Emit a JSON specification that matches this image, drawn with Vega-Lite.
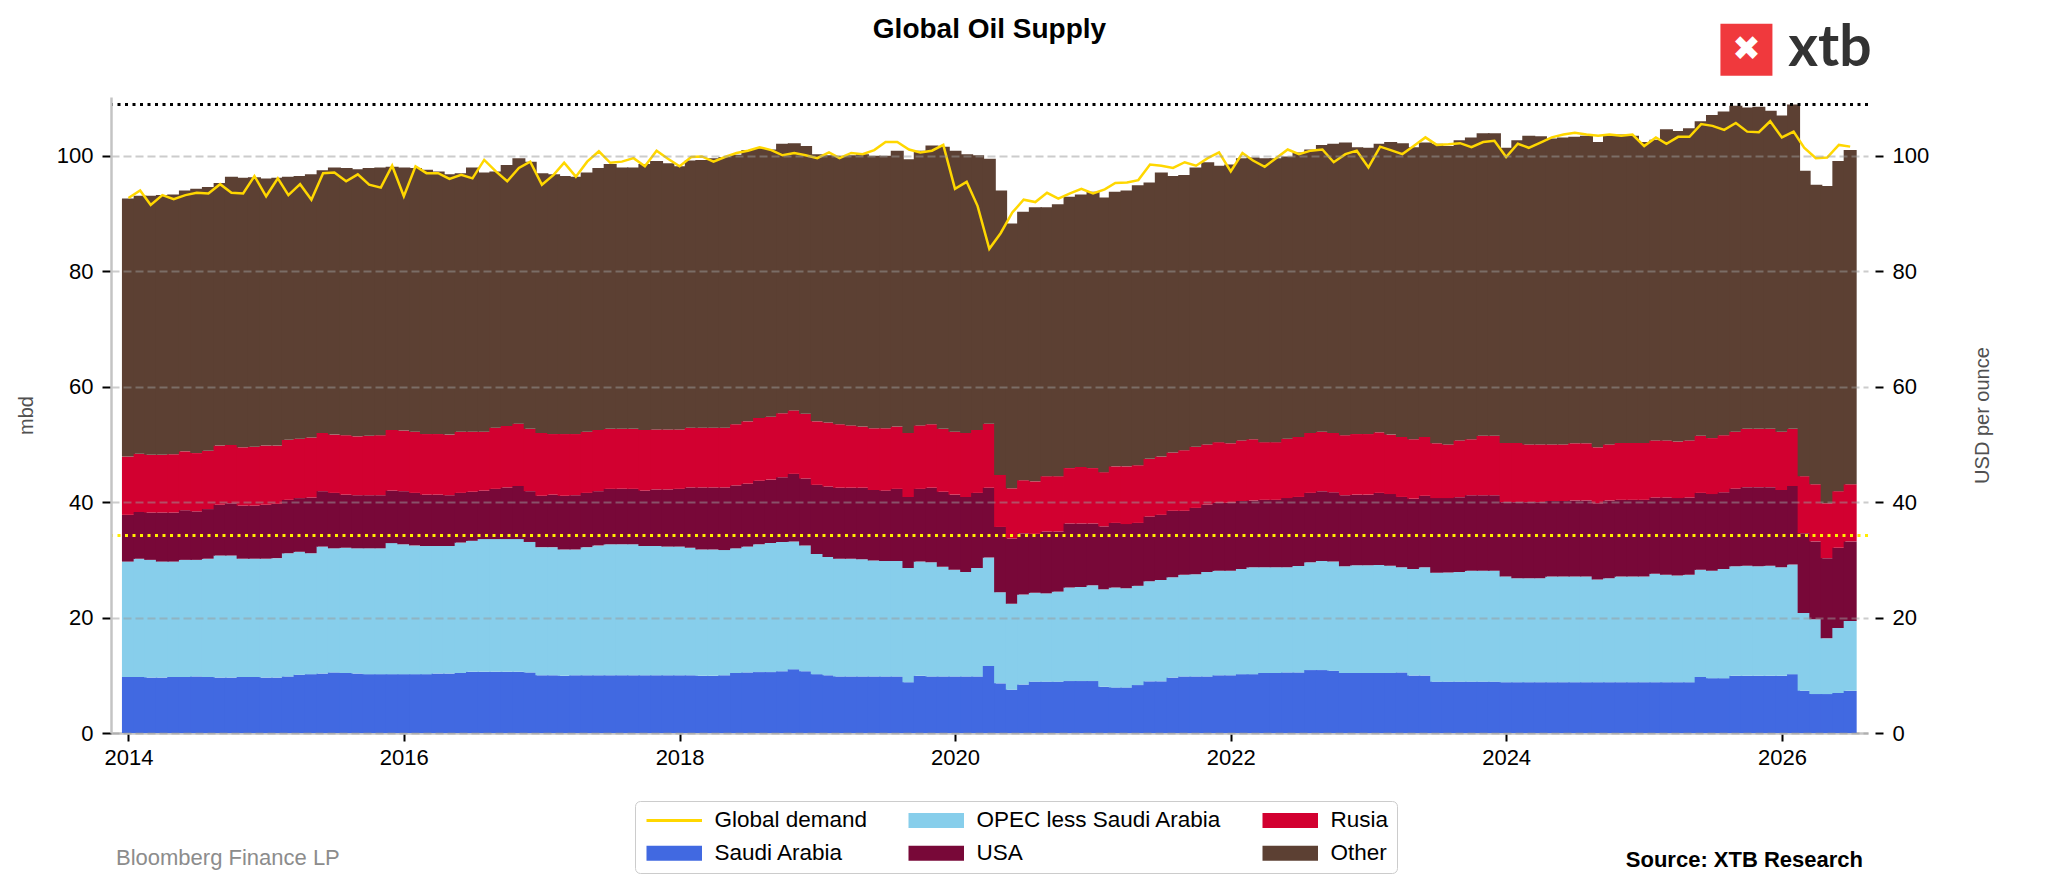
{
  "$schema": "https://vega.github.io/schema/vega-lite/v6.json",
  "width": 1757,
  "height": 636,
  "autosize": {"type": "none"},
  "padding": {"left": 111, "top": 97, "right": 180, "bottom": 161},
  "background": "white",
  "title": {
    "text": "Global Oil Supply",
    "font": "Liberation Sans",
    "fontSize": 28,
    "fontWeight": "bold",
    "color": "black",
    "anchor": "middle",
    "frame": "group",
    "baseline": "bottom",
    "offset": -52
  },
  "datasets": {
    "seriesOrder": [
      {"series": "sa", "rank": 1},
      {"series": "opec", "rank": 2},
      {"series": "usa", "rank": 3},
      {"series": "rus", "rank": 4},
      {"series": "other", "rank": 5}
    ]
  },
  "data": {
    "values": [
      {"date": "2014-01-01", "sa": 9.7, "opec": 20.0, "usa": 8.1, "rus": 10.1, "other": 44.7, "demand": 92.7},
      {"date": "2014-02-01", "sa": 9.7, "opec": 20.5, "usa": 8.1, "rus": 10.1, "other": 44.7, "demand": 94.0},
      {"date": "2014-03-01", "sa": 9.6, "opec": 20.4, "usa": 8.2, "rus": 10.0, "other": 44.9, "demand": 91.5},
      {"date": "2014-04-01", "sa": 9.6, "opec": 20.1, "usa": 8.5, "rus": 10.0, "other": 45.0, "demand": 93.2},
      {"date": "2014-05-01", "sa": 9.7, "opec": 20.0, "usa": 8.5, "rus": 10.1, "other": 45.0, "demand": 92.5},
      {"date": "2014-06-01", "sa": 9.7, "opec": 20.3, "usa": 8.6, "rus": 10.2, "other": 45.2, "demand": 93.2},
      {"date": "2014-07-01", "sa": 9.8, "opec": 20.2, "usa": 8.4, "rus": 10.1, "other": 45.8, "demand": 93.6},
      {"date": "2014-08-01", "sa": 9.7, "opec": 20.5, "usa": 8.6, "rus": 10.1, "other": 45.7, "demand": 93.5},
      {"date": "2014-09-01", "sa": 9.6, "opec": 21.15, "usa": 8.8, "rus": 10.25, "other": 45.5, "demand": 95.1},
      {"date": "2014-10-01", "sa": 9.6, "opec": 21.15, "usa": 9.05, "rus": 10.1, "other": 46.5, "demand": 93.6},
      {"date": "2014-11-01", "sa": 9.7, "opec": 20.5, "usa": 9.2, "rus": 10.1, "other": 46.7, "demand": 93.5},
      {"date": "2014-12-01", "sa": 9.7, "opec": 20.5, "usa": 9.2, "rus": 10.2, "other": 46.7, "demand": 96.5},
      {"date": "2015-01-01", "sa": 9.6, "opec": 20.6, "usa": 9.35, "rus": 10.25, "other": 46.3, "demand": 93.0},
      {"date": "2015-02-01", "sa": 9.6, "opec": 20.7, "usa": 9.4, "rus": 10.1, "other": 46.4, "demand": 96.1},
      {"date": "2015-03-01", "sa": 9.8, "opec": 21.35, "usa": 9.25, "rus": 10.4, "other": 45.6, "demand": 93.2},
      {"date": "2015-04-01", "sa": 10.1, "opec": 21.3, "usa": 9.3, "rus": 10.3, "other": 45.5, "demand": 95.1},
      {"date": "2015-05-01", "sa": 10.2, "opec": 20.95, "usa": 9.65, "rus": 10.4, "other": 45.6, "demand": 92.4},
      {"date": "2015-06-01", "sa": 10.3, "opec": 22.0, "usa": 9.6, "rus": 10.1, "other": 45.5, "demand": 97.0},
      {"date": "2015-07-01", "sa": 10.5, "opec": 21.5, "usa": 9.6, "rus": 10.1, "other": 46.3, "demand": 97.1},
      {"date": "2015-08-01", "sa": 10.4, "opec": 21.7, "usa": 9.2, "rus": 10.3, "other": 46.3, "demand": 95.6},
      {"date": "2015-09-01", "sa": 10.3, "opec": 21.7, "usa": 9.2, "rus": 10.2, "other": 46.3, "demand": 96.8},
      {"date": "2015-10-01", "sa": 10.2, "opec": 21.8, "usa": 9.2, "rus": 10.3, "other": 46.4, "demand": 95.0},
      {"date": "2015-11-01", "sa": 10.2, "opec": 21.8, "usa": 9.2, "rus": 10.4, "other": 46.4, "demand": 94.5},
      {"date": "2015-12-01", "sa": 10.2, "opec": 22.7, "usa": 9.1, "rus": 10.5, "other": 45.6, "demand": 98.3},
      {"date": "2016-01-01", "sa": 10.2, "opec": 22.5, "usa": 9.2, "rus": 10.5, "other": 45.6, "demand": 93.0},
      {"date": "2016-02-01", "sa": 10.2, "opec": 22.3, "usa": 9.1, "rus": 10.6, "other": 45.7, "demand": 98.2},
      {"date": "2016-03-01", "sa": 10.2, "opec": 22.2, "usa": 8.9, "rus": 10.5, "other": 45.8, "demand": 97.0},
      {"date": "2016-04-01", "sa": 10.3, "opec": 22.1, "usa": 8.9, "rus": 10.5, "other": 45.5, "demand": 97.0},
      {"date": "2016-05-01", "sa": 10.3, "opec": 22.1, "usa": 8.8, "rus": 10.5, "other": 45.1, "demand": 96.0},
      {"date": "2016-06-01", "sa": 10.4, "opec": 22.6, "usa": 8.6, "rus": 10.6, "other": 44.8, "demand": 96.7},
      {"date": "2016-07-01", "sa": 10.6, "opec": 22.7, "usa": 8.5, "rus": 10.4, "other": 45.8, "demand": 96.1},
      {"date": "2016-08-01", "sa": 10.6, "opec": 23.0, "usa": 8.4, "rus": 10.2, "other": 44.9, "demand": 99.3},
      {"date": "2016-09-01", "sa": 10.6, "opec": 23.0, "usa": 8.7, "rus": 10.6, "other": 44.4, "demand": 97.3},
      {"date": "2016-10-01", "sa": 10.6, "opec": 23.0, "usa": 8.95, "rus": 10.65, "other": 45.2, "demand": 95.6},
      {"date": "2016-11-01", "sa": 10.6, "opec": 23.0, "usa": 9.2, "rus": 10.8, "other": 46.0, "demand": 97.9},
      {"date": "2016-12-01", "sa": 10.5, "opec": 22.6, "usa": 8.8, "rus": 10.8, "other": 46.3, "demand": 99.0},
      {"date": "2017-01-01", "sa": 10.0, "opec": 22.2, "usa": 8.9, "rus": 10.9, "other": 45.0, "demand": 95.0},
      {"date": "2017-02-01", "sa": 10.0, "opec": 22.2, "usa": 9.1, "rus": 10.5, "other": 45.0, "demand": 96.7},
      {"date": "2017-03-01", "sa": 9.9, "opec": 21.9, "usa": 9.3, "rus": 10.7, "other": 44.7, "demand": 98.8},
      {"date": "2017-04-01", "sa": 10.0, "opec": 21.8, "usa": 9.4, "rus": 10.6, "other": 44.6, "demand": 96.4},
      {"date": "2017-05-01", "sa": 10.0, "opec": 22.2, "usa": 9.4, "rus": 10.6, "other": 44.9, "demand": 99.0},
      {"date": "2017-06-01", "sa": 10.0, "opec": 22.5, "usa": 9.4, "rus": 10.6, "other": 45.4, "demand": 100.8},
      {"date": "2017-07-01", "sa": 10.0, "opec": 22.7, "usa": 9.6, "rus": 10.4, "other": 45.9, "demand": 98.8},
      {"date": "2017-08-01", "sa": 10.0, "opec": 22.7, "usa": 9.6, "rus": 10.4, "other": 45.3, "demand": 99.0},
      {"date": "2017-09-01", "sa": 10.0, "opec": 22.7, "usa": 9.6, "rus": 10.4, "other": 45.3, "demand": 99.6},
      {"date": "2017-10-01", "sa": 10.0, "opec": 22.4, "usa": 9.6, "rus": 10.5, "other": 46.1, "demand": 98.2},
      {"date": "2017-11-01", "sa": 10.0, "opec": 22.4, "usa": 9.8, "rus": 10.4, "other": 46.5, "demand": 100.9},
      {"date": "2017-12-01", "sa": 10.0, "opec": 22.3, "usa": 9.9, "rus": 10.4, "other": 46.1, "demand": 99.5},
      {"date": "2018-01-01", "sa": 10.0, "opec": 22.3, "usa": 10.0, "rus": 10.3, "other": 45.6, "demand": 98.2},
      {"date": "2018-02-01", "sa": 10.0, "opec": 22.1, "usa": 10.45, "rus": 10.35, "other": 46.3, "demand": 99.8},
      {"date": "2018-03-01", "sa": 9.9, "opec": 21.9, "usa": 10.75, "rus": 10.35, "other": 46.4, "demand": 99.9},
      {"date": "2018-04-01", "sa": 9.9, "opec": 21.9, "usa": 10.75, "rus": 10.35, "other": 46.7, "demand": 99.0},
      {"date": "2018-05-01", "sa": 10.0, "opec": 21.7, "usa": 10.85, "rus": 10.35, "other": 46.9, "demand": 99.8},
      {"date": "2018-06-01", "sa": 10.4, "opec": 21.6, "usa": 10.9, "rus": 10.6, "other": 46.7, "demand": 100.5},
      {"date": "2018-07-01", "sa": 10.5, "opec": 21.8, "usa": 10.9, "rus": 10.8, "other": 47.0, "demand": 100.9},
      {"date": "2018-08-01", "sa": 10.55, "opec": 22.15, "usa": 11.0, "rus": 10.9, "other": 46.7, "demand": 101.5},
      {"date": "2018-09-01", "sa": 10.55, "opec": 22.35, "usa": 11.0, "rus": 10.9, "other": 46.3, "demand": 101.0},
      {"date": "2018-10-01", "sa": 10.7, "opec": 22.4, "usa": 11.2, "rus": 11.1, "other": 46.7, "demand": 100.1},
      {"date": "2018-11-01", "sa": 11.05, "opec": 22.15, "usa": 11.7, "rus": 11.0, "other": 46.3, "demand": 100.5},
      {"date": "2018-12-01", "sa": 10.7, "opec": 21.8, "usa": 11.6, "rus": 11.2, "other": 46.4, "demand": 100.1},
      {"date": "2019-01-01", "sa": 10.2, "opec": 20.8, "usa": 12.0, "rus": 11.0, "other": 46.3, "demand": 99.6},
      {"date": "2019-02-01", "sa": 10.0, "opec": 20.5, "usa": 12.2, "rus": 11.1, "other": 46.3, "demand": 100.6},
      {"date": "2019-03-01", "sa": 9.8, "opec": 20.4, "usa": 12.3, "rus": 11.0, "other": 46.5, "demand": 99.6},
      {"date": "2019-04-01", "sa": 9.8, "opec": 20.4, "usa": 12.3, "rus": 10.8, "other": 46.8, "demand": 100.5},
      {"date": "2019-05-01", "sa": 9.8, "opec": 20.3, "usa": 12.4, "rus": 10.6, "other": 47.2, "demand": 100.3},
      {"date": "2019-06-01", "sa": 9.8, "opec": 20.1, "usa": 12.2, "rus": 10.7, "other": 47.2, "demand": 101.0},
      {"date": "2019-07-01", "sa": 9.8, "opec": 20.0, "usa": 12.2, "rus": 10.8, "other": 47.2, "demand": 102.4},
      {"date": "2019-08-01", "sa": 9.8, "opec": 20.0, "usa": 12.5, "rus": 10.8, "other": 47.8, "demand": 102.4},
      {"date": "2019-09-01", "sa": 8.8, "opec": 19.8, "usa": 12.3, "rus": 11.1, "other": 47.4, "demand": 101.1},
      {"date": "2019-10-01", "sa": 9.9, "opec": 19.8, "usa": 12.6, "rus": 11.0, "other": 47.6, "demand": 100.6},
      {"date": "2019-11-01", "sa": 9.8, "opec": 19.8, "usa": 12.9, "rus": 11.0, "other": 48.3, "demand": 100.9},
      {"date": "2019-12-01", "sa": 9.8, "opec": 19.0, "usa": 13.0, "rus": 10.9, "other": 48.9, "demand": 101.9},
      {"date": "2020-01-01", "sa": 9.8, "opec": 18.5, "usa": 13.0, "rus": 10.9, "other": 48.7, "demand": 94.3},
      {"date": "2020-02-01", "sa": 9.8, "opec": 18.1, "usa": 13.0, "rus": 11.1, "other": 48.3, "demand": 95.5},
      {"date": "2020-03-01", "sa": 9.8, "opec": 18.8, "usa": 13.0, "rus": 10.9, "other": 47.6, "demand": 91.3},
      {"date": "2020-04-01", "sa": 11.6, "opec": 18.8, "usa": 12.1, "rus": 11.1, "other": 45.9, "demand": 83.9},
      {"date": "2020-05-01", "sa": 8.6, "opec": 15.8, "usa": 11.3, "rus": 9.0, "other": 49.3, "demand": 86.6},
      {"date": "2020-06-01", "sa": 7.5, "opec": 14.9, "usa": 11.3, "rus": 8.7, "other": 45.9, "demand": 90.2},
      {"date": "2020-07-01", "sa": 8.4, "opec": 15.6, "usa": 10.6, "rus": 9.2, "other": 46.5, "demand": 92.4},
      {"date": "2020-08-01", "sa": 8.9, "opec": 15.4, "usa": 10.2, "rus": 9.1, "other": 47.5, "demand": 92.0},
      {"date": "2020-09-01", "sa": 8.9, "opec": 15.3, "usa": 10.7, "rus": 9.6, "other": 46.6, "demand": 93.6},
      {"date": "2020-10-01", "sa": 8.9, "opec": 15.6, "usa": 10.4, "rus": 9.6, "other": 47.1, "demand": 92.6},
      {"date": "2020-11-01", "sa": 9.0, "opec": 16.2, "usa": 11.1, "rus": 9.6, "other": 47.0, "demand": 93.5},
      {"date": "2020-12-01", "sa": 9.0, "opec": 16.3, "usa": 11.0, "rus": 9.8, "other": 47.2, "demand": 94.3},
      {"date": "2021-01-01", "sa": 9.0, "opec": 16.6, "usa": 10.7, "rus": 9.6, "other": 47.9, "demand": 93.5},
      {"date": "2021-02-01", "sa": 8.0, "opec": 16.9, "usa": 10.9, "rus": 9.4, "other": 47.6, "demand": 94.2},
      {"date": "2021-03-01", "sa": 7.9, "opec": 17.3, "usa": 11.2, "rus": 9.8, "other": 47.6, "demand": 95.3},
      {"date": "2021-04-01", "sa": 7.9, "opec": 17.2, "usa": 11.1, "rus": 10.0, "other": 47.8, "demand": 95.4},
      {"date": "2021-05-01", "sa": 8.3, "opec": 17.2, "usa": 10.9, "rus": 10.0, "other": 48.5, "demand": 95.8},
      {"date": "2021-06-01", "sa": 8.95, "opec": 17.35, "usa": 11.2, "rus": 10.0, "other": 47.9, "demand": 98.5},
      {"date": "2021-07-01", "sa": 8.95, "opec": 17.55, "usa": 11.3, "rus": 10.1, "other": 49.2, "demand": 98.3},
      {"date": "2021-08-01", "sa": 9.6, "opec": 17.4, "usa": 11.5, "rus": 10.1, "other": 47.9, "demand": 97.9},
      {"date": "2021-09-01", "sa": 9.8, "opec": 17.6, "usa": 11.1, "rus": 10.5, "other": 47.7, "demand": 98.9},
      {"date": "2021-10-01", "sa": 9.8, "opec": 17.7, "usa": 11.5, "rus": 10.6, "other": 48.4, "demand": 98.3},
      {"date": "2021-11-01", "sa": 9.8, "opec": 18.1, "usa": 11.7, "rus": 10.4, "other": 48.9, "demand": 99.6},
      {"date": "2021-12-01", "sa": 10.0, "opec": 18.1, "usa": 11.8, "rus": 10.5, "other": 47.9, "demand": 100.6},
      {"date": "2022-01-01", "sa": 10.0, "opec": 18.1, "usa": 11.8, "rus": 10.3, "other": 48.3, "demand": 97.3},
      {"date": "2022-02-01", "sa": 10.2, "opec": 18.2, "usa": 11.8, "rus": 10.5, "other": 48.9, "demand": 100.5},
      {"date": "2022-03-01", "sa": 10.2, "opec": 18.5, "usa": 11.6, "rus": 10.6, "other": 48.8, "demand": 99.2},
      {"date": "2022-04-01", "sa": 10.4, "opec": 18.3, "usa": 11.7, "rus": 10.0, "other": 49.2, "demand": 98.1},
      {"date": "2022-05-01", "sa": 10.4, "opec": 18.3, "usa": 11.7, "rus": 10.0, "other": 49.2, "demand": 99.6},
      {"date": "2022-06-01", "sa": 10.5, "opec": 18.2, "usa": 12.0, "rus": 10.3, "other": 48.9, "demand": 101.1},
      {"date": "2022-07-01", "sa": 10.5, "opec": 18.45, "usa": 11.95, "rus": 10.4, "other": 49.3, "demand": 100.3},
      {"date": "2022-08-01", "sa": 10.9, "opec": 18.7, "usa": 12.0, "rus": 10.4, "other": 49.1, "demand": 100.9},
      {"date": "2022-09-01", "sa": 10.9, "opec": 18.9, "usa": 12.1, "rus": 10.3, "other": 49.7, "demand": 101.1},
      {"date": "2022-10-01", "sa": 10.8, "opec": 18.9, "usa": 12.0, "rus": 10.3, "other": 50.1, "demand": 98.9},
      {"date": "2022-11-01", "sa": 10.4, "opec": 18.5, "usa": 12.3, "rus": 10.4, "other": 50.7, "demand": 100.3},
      {"date": "2022-12-01", "sa": 10.4, "opec": 18.65, "usa": 12.25, "rus": 10.5, "other": 49.7, "demand": 100.9},
      {"date": "2023-01-01", "sa": 10.4, "opec": 18.65, "usa": 12.25, "rus": 10.5, "other": 49.6, "demand": 98.0},
      {"date": "2023-02-01", "sa": 10.4, "opec": 18.7, "usa": 12.5, "rus": 10.5, "other": 50.0, "demand": 101.6},
      {"date": "2023-03-01", "sa": 10.4, "opec": 18.6, "usa": 12.4, "rus": 10.3, "other": 50.7, "demand": 101.0},
      {"date": "2023-04-01", "sa": 10.5, "opec": 18.2, "usa": 12.2, "rus": 10.4, "other": 50.9, "demand": 100.3},
      {"date": "2023-05-01", "sa": 9.95, "opec": 18.45, "usa": 12.2, "rus": 10.3, "other": 50.6, "demand": 101.7},
      {"date": "2023-06-01", "sa": 9.95, "opec": 18.75, "usa": 12.4, "rus": 10.2, "other": 51.0, "demand": 103.2},
      {"date": "2023-07-01", "sa": 8.9, "opec": 18.85, "usa": 12.95, "rus": 9.5, "other": 51.9, "demand": 101.9},
      {"date": "2023-08-01", "sa": 8.9, "opec": 18.9, "usa": 12.9, "rus": 9.3, "other": 51.7, "demand": 102.0},
      {"date": "2023-09-01", "sa": 8.9, "opec": 19.0, "usa": 12.95, "rus": 9.85, "other": 52.0, "demand": 102.2},
      {"date": "2023-10-01", "sa": 8.9, "opec": 19.2, "usa": 13.1, "rus": 9.7, "other": 52.3, "demand": 101.5},
      {"date": "2023-11-01", "sa": 8.9, "opec": 19.2, "usa": 13.1, "rus": 10.3, "other": 52.4, "demand": 102.4},
      {"date": "2023-12-01", "sa": 8.9, "opec": 19.2, "usa": 13.1, "rus": 10.3, "other": 52.4, "demand": 102.6},
      {"date": "2024-01-01", "sa": 8.8, "opec": 18.3, "usa": 12.9, "rus": 10.25, "other": 51.15, "demand": 99.8},
      {"date": "2024-02-01", "sa": 8.8, "opec": 18.0, "usa": 13.2, "rus": 10.25, "other": 52.45, "demand": 102.1},
      {"date": "2024-03-01", "sa": 8.8, "opec": 18.0, "usa": 13.2, "rus": 10.0, "other": 53.5, "demand": 101.4},
      {"date": "2024-04-01", "sa": 8.8, "opec": 18.0, "usa": 13.2, "rus": 10.0, "other": 53.4, "demand": 102.3},
      {"date": "2024-05-01", "sa": 8.8, "opec": 18.3, "usa": 13.1, "rus": 9.8, "other": 53.0, "demand": 103.2},
      {"date": "2024-06-01", "sa": 8.8, "opec": 18.3, "usa": 13.1, "rus": 9.8, "other": 53.2, "demand": 103.7},
      {"date": "2024-07-01", "sa": 8.8, "opec": 18.3, "usa": 13.2, "rus": 9.9, "other": 53.1, "demand": 104.0},
      {"date": "2024-08-01", "sa": 8.8, "opec": 18.3, "usa": 13.2, "rus": 9.9, "other": 53.3, "demand": 103.7},
      {"date": "2024-09-01", "sa": 8.8, "opec": 17.8, "usa": 13.2, "rus": 9.7, "other": 52.9, "demand": 103.5},
      {"date": "2024-10-01", "sa": 8.8, "opec": 18.0, "usa": 13.5, "rus": 9.7, "other": 53.7, "demand": 103.7},
      {"date": "2024-11-01", "sa": 8.8, "opec": 18.3, "usa": 13.3, "rus": 9.85, "other": 53.45, "demand": 103.5},
      {"date": "2024-12-01", "sa": 8.8, "opec": 18.3, "usa": 13.3, "rus": 9.85, "other": 53.25, "demand": 103.7},
      {"date": "2025-01-01", "sa": 8.8, "opec": 18.3, "usa": 13.3, "rus": 9.85, "other": 52.15, "demand": 101.7},
      {"date": "2025-02-01", "sa": 8.8, "opec": 18.8, "usa": 13.2, "rus": 9.9, "other": 52.1, "demand": 103.2},
      {"date": "2025-03-01", "sa": 8.8, "opec": 18.6, "usa": 13.4, "rus": 9.9, "other": 53.9, "demand": 102.1},
      {"date": "2025-04-01", "sa": 8.8, "opec": 18.5, "usa": 13.4, "rus": 9.8, "other": 53.8, "demand": 103.3},
      {"date": "2025-05-01", "sa": 8.8, "opec": 18.6, "usa": 13.4, "rus": 9.9, "other": 54.1, "demand": 103.3},
      {"date": "2025-06-01", "sa": 9.7, "opec": 18.6, "usa": 13.3, "rus": 9.9, "other": 54.5, "demand": 105.5},
      {"date": "2025-07-01", "sa": 9.5, "opec": 18.6, "usa": 13.3, "rus": 9.7, "other": 56.0, "demand": 105.2},
      {"date": "2025-08-01", "sa": 9.5, "opec": 18.9, "usa": 13.3, "rus": 9.9, "other": 56.1, "demand": 104.5},
      {"date": "2025-09-01", "sa": 9.9, "opec": 19.0, "usa": 13.45, "rus": 9.85, "other": 56.5, "demand": 105.7},
      {"date": "2025-10-01", "sa": 9.9, "opec": 19.1, "usa": 13.6, "rus": 10.1, "other": 55.7, "demand": 104.2},
      {"date": "2025-11-01", "sa": 9.9, "opec": 19.0, "usa": 13.7, "rus": 10.1, "other": 55.8, "demand": 104.1},
      {"date": "2025-12-01", "sa": 9.9, "opec": 19.1, "usa": 13.6, "rus": 10.1, "other": 55.1, "demand": 106.0},
      {"date": "2026-01-01", "sa": 9.9, "opec": 18.8, "usa": 13.4, "rus": 10.1, "other": 54.8, "demand": 103.2},
      {"date": "2026-02-01", "sa": 10.2, "opec": 19.0, "usa": 13.6, "rus": 9.9, "other": 56.2, "demand": 104.2},
      {"date": "2026-03-01", "sa": 7.3, "opec": 13.5, "usa": 13.8, "rus": 9.9, "other": 52.9, "demand": 101.4},
      {"date": "2026-04-01", "sa": 6.75, "opec": 12.95, "usa": 13.5, "rus": 9.9, "other": 51.9, "demand": 99.6},
      {"date": "2026-05-01", "sa": 6.75, "opec": 9.65, "usa": 13.9, "rus": 9.5, "other": 55.0, "demand": 99.7},
      {"date": "2026-06-01", "sa": 6.95, "opec": 11.25, "usa": 13.9, "rus": 9.8, "other": 57.2, "demand": 101.9},
      {"date": "2026-07-01", "sa": 7.3, "opec": 12.1, "usa": 13.8, "rus": 9.9, "other": 57.9, "demand": 101.6}
    ]
  },
  "resolve": {"scale": {"y": "shared"}, "axis": {"y": "independent"}},
  "layer": [
    {
      "transform": [
        {"fold": ["sa", "opec", "usa", "rus", "other"], "as": ["series", "value"]},
        {"lookup": "series", "from": {"data": {"name": "seriesOrder"}, "key": "series", "fields": ["rank"]}}
      ],
      "mark": {"type": "bar", "width": 13, "stroke": null},
      "encoding": {
        "x": {
          "field": "date",
          "type": "temporal",
          "scale": {"domain": [{"year": 2013, "month": 11, "date": 29}, {"year": 2026, "month": 8, "date": 4}]},
          "axis": {
            "values": [
              {"year": 2014, "month": 1, "date": 1},
              {"year": 2016, "month": 1, "date": 1},
              {"year": 2018, "month": 1, "date": 1},
              {"year": 2020, "month": 1, "date": 1},
              {"year": 2022, "month": 1, "date": 1},
              {"year": 2024, "month": 1, "date": 1},
              {"year": 2026, "month": 1, "date": 1}
            ],
            "format": "%Y",
            "title": null,
            "grid": false,
            "tickSize": 8,
            "tickWidth": 2,
            "tickColor": "black",
            "labelPadding": 6,
            "domainColor": "#c4c4c4",
            "domainWidth": 2.5
          }
        },
        "y": {
          "field": "value",
          "type": "quantitative",
          "stack": "zero",
          "scale": {"domain": [0, 110.2], "nice": false},
          "axis": {
            "values": [0, 20, 40, 60, 80, 100],
            "title": "mbd",
            "titleColor": "#505050",
            "titleFontSize": 20,
            "titleFontWeight": "normal",
            "titlePadding": 20,
            "tickSize": 9,
            "tickWidth": 2,
            "tickColor": "black",
            "labelPadding": 9,
            "domainColor": "#c4c4c4",
            "domainWidth": 2.5,
            "grid": true,
            "gridDash": [8, 4],
            "gridColor": "#999999",
            "gridOpacity": 0.5,
            "gridWidth": 2,
            "zindex": 1
          }
        },
        "color": {
          "field": "series",
          "type": "nominal",
          "scale": {
            "domain": ["sa", "opec", "usa", "rus", "other", "demand"],
            "range": ["#4169e1", "#87ceeb", "#780838", "#d20030", "#5c4033", "#ffd700"]
          },
          "legend": null
        },
        "order": {"field": "rank", "type": "quantitative", "sort": "ascending"}
      }
    },
    {
      "mark": {"type": "line", "strokeWidth": 2.5, "interpolate": "linear"},
      "encoding": {
        "x": {"field": "date", "type": "temporal", "scale": {"domain": [{"year": 2013, "month": 11, "date": 29}, {"year": 2026, "month": 8, "date": 4}]}},
        "y": {"field": "demand", "type": "quantitative", "scale": {"domain": [0, 110.2], "nice": false}, "axis": null},
        "color": {"datum": "demand", "legend": null}
      }
    },
    {
      "data": {"values": [{"series": "demand"}, {"series": "opec"}, {"series": "rus"}, {"series": "sa"}, {"series": "usa"}, {"series": "other"}]},
      "mark": {"type": "point", "filled": true, "opacity": 0, "size": 1},
      "encoding": {
        "x": {"datum": {"year": 2020, "month": 1, "date": 1}, "type": "temporal", "scale": {"domain": [{"year": 2013, "month": 11, "date": 29}, {"year": 2026, "month": 8, "date": 4}]}},
        "y": {"datum": 50, "type": "quantitative", "scale": {"domain": [0, 110.2], "nice": false}, "axis": null},
        "fill": {
          "field": "series",
          "type": "nominal",
          "scale": {
            "domain": ["demand", "opec", "rus", "sa", "usa", "other"],
            "range": ["#ffd700", "#87ceeb", "#d20030", "#4169e1", "#780838", "#5c4033"]
          },
          "legend": {
            "orient": "none",
            "legendX": 524,
            "legendY": 704,
            "columns": 3,
            "direction": "horizontal",
            "title": null,
            "labelExpr": "datum.value === 'demand' ? 'Global demand' : datum.value === 'sa' ? 'Saudi Arabia' : datum.value === 'opec' ? 'OPEC less Saudi Arabia' : datum.value === 'usa' ? 'USA' : datum.value === 'rus' ? 'Rusia' : 'Other'",
            "labelFontSize": 22.5,
            "labelColor": "black",
            "labelLimit": 500,
            "symbolSize": 225,
            "symbolOffset": 20,
            "symbolOpacity": 1,
            "symbolStrokeWidth": 0,
            "labelOffset": 29,
            "columnPadding": 37,
            "rowPadding": 10,
            "padding": 8,
            "strokeColor": "#cccccc",
            "fillColor": "white",
            "cornerRadius": 5
          }
        },
        "shape": {
          "field": "series",
          "type": "nominal",
          "scale": {
            "domain": ["demand", "opec", "rus", "sa", "usa", "other"],
            "range": ["M-3.7,-0.2H3.7V0.2H-3.7Z", "M-3.7,-1H3.7V1H-3.7Z", "M-3.7,-1H3.7V1H-3.7Z", "M-3.7,-1H3.7V1H-3.7Z", "M-3.7,-1H3.7V1H-3.7Z", "M-3.7,-1H3.7V1H-3.7Z"]
          },
          "legend": {
            "orient": "none",
            "legendX": 524,
            "legendY": 704,
            "columns": 3,
            "direction": "horizontal",
            "title": null,
            "labelExpr": "datum.value === 'demand' ? 'Global demand' : datum.value === 'sa' ? 'Saudi Arabia' : datum.value === 'opec' ? 'OPEC less Saudi Arabia' : datum.value === 'usa' ? 'USA' : datum.value === 'rus' ? 'Rusia' : 'Other'",
            "labelFontSize": 22.5,
            "labelColor": "black",
            "labelLimit": 500,
            "symbolSize": 225,
            "symbolOffset": 20,
            "symbolOpacity": 1,
            "symbolStrokeWidth": 0,
            "labelOffset": 29,
            "columnPadding": 37,
            "rowPadding": 10,
            "padding": 8,
            "strokeColor": "#cccccc",
            "fillColor": "white",
            "cornerRadius": 5
          }
        }
      }
    },
    {
      "data": {"values": [{}]},
      "mark": {"type": "rule", "color": "black", "strokeWidth": 3, "strokeDash": [3, 4.5]},
      "encoding": {
        "y": {"datum": 108.9, "type": "quantitative", "scale": {"domain": [0, 110.2], "nice": false}, "axis": null}
      }
    },
    {
      "data": {"values": [{}]},
      "mark": {"type": "rule", "color": "#ffee00", "strokeWidth": 3, "strokeDash": [3, 4.5]},
      "encoding": {
        "y": {
          "datum": 34.2,
          "type": "quantitative",
          "scale": {"domain": [0, 110.2], "nice": false},
          "axis": {
            "orient": "right",
            "values": [0, 20, 40, 60, 80, 100],
            "title": "USD per ounce",
            "titleColor": "#505050",
            "titleFontSize": 20,
            "titleFontWeight": "normal",
            "titleAngle": 270,
            "titlePadding": 64,
            "offset": 7,
            "tickSize": 8,
            "tickWidth": 2,
            "tickColor": "black",
            "labelPadding": 9,
            "domain": false,
            "grid": false
          }
        }
      }
    },
    {
      "data": {"values": [{}]},
      "mark": {"type": "text", "align": "left", "baseline": "alphabetic", "fontSize": 22, "color": "#8c8c8c"},
      "encoding": {
        "x": {"datum": {"year": 2013, "month": 11, "date": 29}, "type": "temporal", "scale": {"domain": [{"year": 2013, "month": 11, "date": 29}, {"year": 2026, "month": 8, "date": 4}]}},
        "y": {"datum": -22.8, "type": "quantitative", "scale": {"domain": [0, 110.2], "nice": false}, "axis": null},
        "text": {"value": "Bloomberg Finance LP"}
      }
    },
    {
      "data": {"values": [{}]},
      "mark": {"type": "text", "align": "right", "baseline": "alphabetic", "fontSize": 22, "fontWeight": "bold", "color": "black"},
      "encoding": {
        "x": {"datum": {"year": 2026, "month": 8, "date": 4}, "type": "temporal", "scale": {"domain": [{"year": 2013, "month": 11, "date": 29}, {"year": 2026, "month": 8, "date": 4}]}},
        "y": {"datum": -23.2, "type": "quantitative", "scale": {"domain": [0, 110.2], "nice": false}, "axis": null},
        "text": {"value": "Source: XTB Research"}
      }
    },
    {
      "data": {"values": [{}]},
      "mark": {"type": "point", "shape": "square", "filled": true, "size": 2704, "color": "#f0393d", "opacity": 1, "strokeWidth": 0},
      "encoding": {
        "x": {"datum": {"year": 2025, "month": 9, "date": 29}, "type": "temporal", "scale": {"domain": [{"year": 2013, "month": 11, "date": 29}, {"year": 2026, "month": 8, "date": 4}]}},
        "y": {"datum": 118.4, "type": "quantitative", "scale": {"domain": [0, 110.2], "nice": false}, "axis": null}
      }
    },
    {
      "data": {"values": [{}]},
      "mark": {"type": "text", "align": "center", "baseline": "middle", "fontSize": 34, "font": "DejaVu Sans", "color": "white"},
      "encoding": {
        "x": {"datum": {"year": 2025, "month": 9, "date": 29}, "type": "temporal", "scale": {"domain": [{"year": 2013, "month": 11, "date": 29}, {"year": 2026, "month": 8, "date": 4}]}},
        "y": {"datum": 118.4, "type": "quantitative", "scale": {"domain": [0, 110.2], "nice": false}, "axis": null},
        "text": {"value": "✖"}
      }
    },
    {
      "data": {"values": [{}]},
      "mark": {"type": "text", "align": "left", "baseline": "alphabetic", "fontSize": 57, "font": "Lato", "fontWeight": "bold", "color": "#333333"},
      "encoding": {
        "x": {"datum": {"year": 2026, "month": 1, "date": 18}, "type": "temporal", "scale": {"domain": [{"year": 2013, "month": 11, "date": 29}, {"year": 2026, "month": 8, "date": 4}]}},
        "y": {"datum": 115.6, "type": "quantitative", "scale": {"domain": [0, 110.2], "nice": false}, "axis": null},
        "text": {"value": "xtb"}
      }
    }
  ],
  "config": {
    "font": "Liberation Sans",
    "view": {"stroke": null},
    "axis": {"labelFontSize": 22, "labelColor": "black", "labelFont": "Liberation Sans", "titleFont": "Liberation Sans"},
    "legend": {"labelFont": "Liberation Sans"}
  }
}
